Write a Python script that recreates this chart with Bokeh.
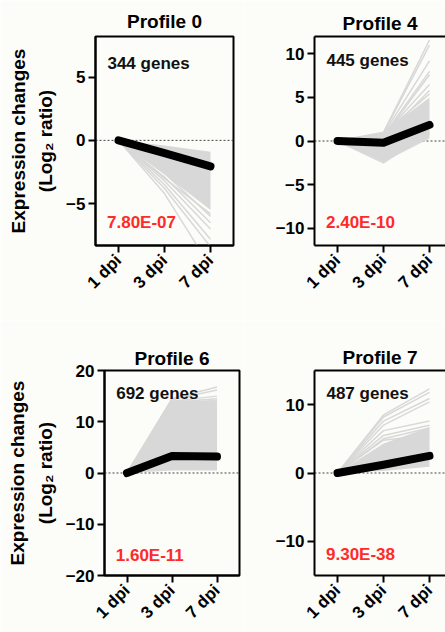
from bokeh.plotting import figure
from bokeh.layouts import column, row
from bokeh.models import Range1d, FixedTicker, Span, Label, LinearAxis
from bokeh.embed import file_html
from bokeh.resources import INLINE

# ---------------- data ----------------
days = ["1 dpi", "3 dpi", "7 dpi"]
profiles = ["Profile 0", "Profile 4", "Profile 6", "Profile 7"]
gene_counts = ["344 genes", "445 genes", "692 genes", "487 genes"]
p_values = ["7.80E-07", "2.40E-10", "1.60E-11", "9.30E-38"]

mean_p0 = [0.0, -1.0, -2.05]
mean_p4 = [0.0, -0.2, 1.85]
mean_p6 = [0.0, 3.3, 3.2]
mean_p7 = [0.0, 1.2, 2.5]

band_lo_p0 = [0.0, -2.7, -5.5]
band_hi_p0 = [0.0, -0.4, -0.9]
band_lo_p4 = [0.0, -2.4, 0.3]
band_hi_p4 = [0.0, 1.0, 5.0]
band_lo_p6 = [0.0, 0.5, 0.5]
band_hi_p6 = [0.0, 14.2, 14.0]
band_lo_p7 = [0.0, 0.3, 0.9]
band_hi_p7 = [0.0, 4.3, 6.7]

genes_p0 = [[0, -4.2, -10.0], [0, -3.8, -8.4], [0, -3.5, -7.8], [0, -3.2, -7.0],
            [0, -2.9, -6.5], [0, -2.6, -6.0], [0, -3.0, -5.8]]
genes_p4 = [[0, 1.0, 11.6], [0, 0.9, 11.0], [0, 0.8, 9.2], [0, 0.6, 8.0],
            [0, 0.5, 7.6], [0, 0.7, 6.5], [0, 0.4, 5.8], [0, 0.9, 5.4],
            [0, -2.5, 1.0], [0, -1.8, 0.8]]
genes_p6 = [[0, 14.5, 16.8], [0, 14.3, 16.2], [0, 14.0, 15.0], [0, 13.8, 14.5],
            [0, 13.5, 14.2]]
genes_p7 = [[0, 8.5, 12.3], [0, 8.2, 11.8], [0, 7.6, 10.9], [0, 7.0, 10.4],
            [0, 6.2, 7.6], [0, 5.5, 7.0], [0, 4.8, 5.6], [0, 5.0, 6.6]]

y_ranges = [(-8.3, 8.2), (-12, 12), (-20, 20), (-15, 15)]
y_ticks = [[-5, 0, 5], [-10, -5, 0, 5, 10], [-20, -10, 0, 10, 20], [-10, 0, 10]]

# ---------------- style ----------------
FONT = "Liberation Sans"
BG = "#fcfcf8"
GRAY = "#d8d8d8"
xs = list(range(len(days)))


def panel(i, mean, lo, hi, genes, width, height, bl, br, bt, bb,
          x_end, ylabel, full_frame, txt_y, p_y, title_offset=0, title_standoff=8):
    p = figure(width=width, height=height, output_backend="svg",
               toolbar_location=None,
               x_range=Range1d(-0.5, x_end),
               y_range=Range1d(*y_ranges[i]),
               min_border_left=bl, min_border_right=br,
               min_border_top=bt, min_border_bottom=bb)
    p.background_fill_color = BG
    p.border_fill_color = BG
    p.grid.visible = False
    xax = p.below[0]
    yax = p.left[0]
    if full_frame:
        p.outline_line_color = "black"
        p.outline_line_width = 2
    else:
        p.outline_line_color = None
        top = LinearAxis(ticker=FixedTicker(ticks=[]),
                         major_label_text_font_size="0px",
                         axis_line_width=2, axis_line_color="black",
                         major_tick_line_color=None, minor_tick_line_color=None,
                         major_tick_out=0, major_tick_in=0,
                         major_label_standoff=0)
        p.add_layout(top, "above")

    p.title.text = profiles[i]
    p.title.align = "center"
    p.title.text_font = FONT
    p.title.text_font_size = "19px"
    p.title.text_font_style = "bold"
    p.title.text_color = "black"
    p.title.offset = title_offset
    p.title.standoff = title_standoff

    for ax in (xax, yax):
        ax.axis_line_width = 2
        ax.axis_line_color = "black"
        ax.major_tick_line_width = 2
        ax.major_tick_line_color = "black"
        ax.major_tick_out = 7
        ax.major_tick_in = 0
        ax.minor_tick_line_color = None
        ax.major_label_text_font = FONT
        ax.major_label_text_font_size = "17px"
        ax.major_label_text_font_style = "bold"
        ax.major_label_text_color = "black"
    xax.ticker = FixedTicker(ticks=xs)
    xax.major_label_overrides = {k: d for k, d in zip(xs, days)}
    xax.major_label_orientation = 0.785398
    xax.major_label_standoff = 5
    yax.ticker = FixedTicker(ticks=y_ticks[i])
    yax.major_label_standoff = 3
    if ylabel:
        yax.axis_label = "Expression changes\n(Log\u2082 ratio)"
        yax.axis_label_text_font = FONT
        yax.axis_label_text_font_size = "19px"
        yax.axis_label_text_font_style = "bold"
        yax.axis_label_text_color = "black"
        yax.axis_label_text_line_height = 1.3
        yax.axis_label_standoff = 7

    p.add_layout(Span(location=0, dimension="width", line_color="#444444",
                      line_width=1, line_dash="2 2", level="underlay"))
    p.varea(x=xs, y1=lo, y2=hi, fill_color=GRAY)
    p.multi_line(xs=[xs] * len(genes), ys=genes, line_color=GRAY, line_width=1.5)
    p.line(xs, mean, line_color="black", line_width=8,
           line_cap="round", line_join="round")

    p.add_layout(Label(x=-0.24, y=txt_y, text=gene_counts[i], text_font=FONT,
                       text_font_size="17px", text_font_style="bold",
                       text_color="#111111", text_baseline="middle"))
    p.add_layout(Label(x=-0.25, y=p_y, text=p_values[i], text_font=FONT,
                       text_font_size="17px", text_font_style="bold",
                       text_color="#ff2a2a", text_baseline="middle"))
    return p


WL, WR = 243, 202
H1, H2 = 320, 312
p0 = panel(0, mean_p0, band_lo_p0, band_hi_p0, genes_p0, WL, H1, 95, 10, 34, 75,
           2.5, True, True, 6.1, -6.5, title_standoff=9)
p4 = panel(1, mean_p4, band_lo_p4, band_hi_p4, genes_p4, WR, H1, 71, 0, 36, 75,
           2.348, False, False, 9.2, -9.4, title_offset=4, title_standoff=5)
p6 = panel(2, mean_p6, band_lo_p6, band_hi_p6, genes_p6, WL, H2, 104, 4, 50, 57,
           2.5, True, True, 15.5, -16.1, title_standoff=3)
p7 = panel(3, mean_p7, band_lo_p7, band_hi_p7, genes_p7, WR, H2, 71, 0, 47, 57,
           2.348, False, False, 11.7, -11.9, title_offset=4, title_standoff=5)

layout = column(row(p0, p4), row(p6, p7))
open("out.html", "w").write(file_html(layout, INLINE))
